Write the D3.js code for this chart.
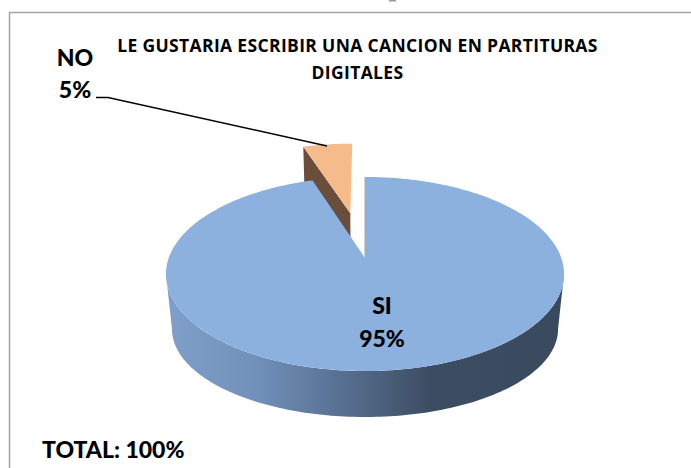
<!DOCTYPE html>
<html>
<head>
<meta charset="utf-8">
<script src="https://cdn.jsdelivr.net/npm/d3@7"></script>
<style>
html, body { margin: 0; padding: 0; background: #fff; overflow: hidden; }
text { font-family: Lato, "Open Sans", sans-serif; font-weight: 900; fill: #000; }
.title { font-family: "Open Sans", Lato, sans-serif; font-weight: 700; letter-spacing: 0.35px; }
</style>
</head>
<body>
<div id="chart"></div>
<script>
var labels = ["SI", "NO"];
var values = [95, 5];
var percents = ["95%", "5%"];
var titleLines = ["LE GUSTARIA ESCRIBIR UNA CANCION EN PARTITURAS", "DIGITALES"];
var totalLabel = "TOTAL: 100%";

var width = 691, height = 468;

var svg = d3.select("#chart").append("svg").attr("width", width).attr("height", height);

/* gradient for the side of the pie, goes dark to the right */
var grad = svg.append("defs").append("linearGradient")
    .attr("id", "wall")
    .attr("gradientUnits", "userSpaceOnUse")
    .attr("x1", 170).attr("x2", 560).attr("y1", 0).attr("y2", 0);
[[0, "#7f9fca"], [0.22, "#7191ba"], [0.45, "#566e8f"], [0.67, "#3c4c62"], [1, "#3a4a5e"]].forEach(function(s) {
    grad.append("stop").attr("offset", s[0]).attr("stop-color", s[1]);
});

/* frame of the chart, runs off the right and bottom of the picture */
svg.append("rect")
    .attr("x", 9.5).attr("y", 12.5)
    .attr("width", 800).attr("height", 600)
    .attr("fill", "#fff")
    .attr("stroke", "#a3a3a3")
    .attr("stroke-width", 1.5);

/* bit of the page text above the chart, cut off by the picture edge */
svg.append("rect").attr("x", 389).attr("y", 0).attr("width", 7).attr("height", 1.5).attr("fill", "#999");

var pie = d3.pie().sort(null).startAngle(0).endAngle(2 * Math.PI);
var slices = pie(values);

/* perspective of the pie: disk coords (u right, v towards viewer) to the screen */
var persp = -0.165;
var topPlane = {cx: 365, cy: 258, rx: 196.3, ry: 94.4};
var basePlane = {cx: 365, cy: 314.5, rx: 190.4, ry: 85.6};
var explode = 0.52;

function project(plane, a, r, du, dv) {
    var u = r * Math.sin(a) + du;
    var v = -r * Math.cos(a) + dv;
    var w = 1 + persp * v;
    return [plane.cx + plane.rx * u / w, plane.cy + plane.ry * v / w];
}

function rim(plane, a0, a1, du, dv) {
    var n = Math.max(2, Math.ceil(Math.abs(a1 - a0) / 0.02));
    return d3.range(n + 1).map(function(i) {
        return project(plane, a0 + (a1 - a0) * i / n, 1, du, dv);
    });
}

var line = d3.line();
var si = slices[0], no = slices[1];

/* NO slice pulled out along its middle angle */
var mid = (no.startAngle + no.endAngle) / 2;
var du = explode * Math.sin(mid), dv = -explode * Math.cos(mid);

var noTop = [project(topPlane, 0, 0, du, dv)].concat(rim(topPlane, no.startAngle, no.endAngle, du, dv));
var noWall = [project(topPlane, no.startAngle, 1, du, dv), project(topPlane, 0, 0, du, dv),
    project(basePlane, 0, 0, du, dv), project(basePlane, no.startAngle, 1, du, dv)];

svg.append("path").attr("d", line(noWall) + "Z").attr("fill", "#6b4e39");
svg.append("path").attr("d", line(noTop) + "Z").attr("fill", "#f6bb8a");

/* front side of SI, between the two points where the rim turns round */
var turn = Math.acos(persp);
var siWall = rim(topPlane, turn, 2 * Math.PI - turn, 0, 0)
    .concat(rim(basePlane, 2 * Math.PI - turn, turn, 0, 0));
svg.append("path").attr("d", line(siWall) + "Z").attr("fill", "url(#wall)");

/* cut face of SI, seen nearly edge on */
svg.append("path")
    .attr("d", line([project(topPlane, 0, 0, 0, 0), project(topPlane, si.startAngle, 1, 0, 0)]))
    .attr("stroke", "#6f6a66").attr("stroke-width", 0.6).attr("fill", "none");

var siTop = [project(topPlane, 0, 0, 0, 0)].concat(rim(topPlane, si.startAngle, si.endAngle, 0, 0));
svg.append("path").attr("d", line(siTop) + "Z").attr("fill", "#8cb1de");

/* leader from the NO label to its slice */
var leader = [[96, 97.5], [108, 97.5], [327, 146]];
svg.append("path").attr("d", line(leader))
    .attr("fill", "none").attr("stroke", "#000").attr("stroke-width", 1.4);

/* title */
svg.selectAll(".title").data(titleLines).enter().append("text")
    .attr("class", "title")
    .attr("x", 357.5)
    .attr("y", function(d, i) { return 52 + i * 26.5; })
    .attr("text-anchor", "middle")
    .attr("font-size", 17.5)
    .text(function(d) { return d; });

/* data labels */
var labelPos = [[382, 314, 347], [75, 66, 98]];
labels.forEach(function(d, i) {
    svg.append("text").attr("x", labelPos[i][0]).attr("y", labelPos[i][1])
        .attr("text-anchor", "middle").attr("font-size", 23).text(d);
    svg.append("text").attr("x", labelPos[i][0]).attr("y", labelPos[i][2])
        .attr("text-anchor", "middle").attr("font-size", 23).text(percents[i]);
});

svg.append("text").attr("x", 42).attr("y", 458).attr("font-size", 23).text(totalLabel);
</script>
</body>
</html>
